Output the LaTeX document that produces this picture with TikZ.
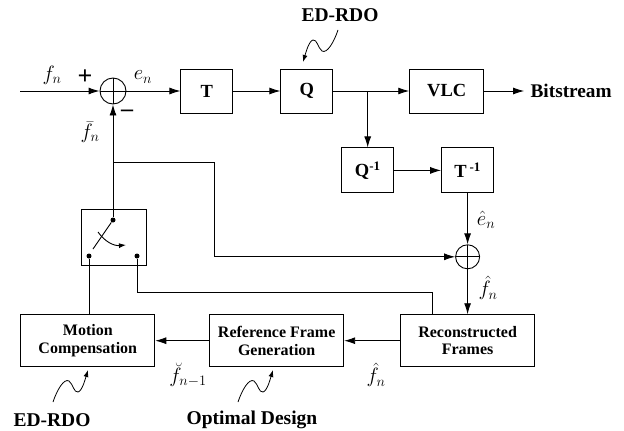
\documentclass[tikz,border=0pt]{standalone}
\usepackage{fontspec}
\setmainfont{Liberation Serif}
\usetikzlibrary{arrows.meta,positioning}

\begin{document}
\begin{tikzpicture}[
  x=1pt, y=1pt,
  line width=0.9pt,
  node distance=40pt and 40pt,
  box/.style={draw, minimum width=52pt, minimum height=44pt, align=center, font=\bfseries\fontsize{18.5}{20}\selectfont, inner sep=2pt},
  widebox/.style={box, minimum width=134pt, minimum height=52pt, font=\bfseries\fontsize{16}{17.5}\selectfont},
  swbox/.style={draw, minimum width=65pt, minimum height=56pt, inner sep=0pt},
  adder/.style={circle, draw, minimum size=26pt, inner sep=0pt,
    path picture={\draw (path picture bounding box.north) -- (path picture bounding box.south)
                        (path picture bounding box.west) -- (path picture bounding box.east);}},
  arr/.style={-{Latex[length=11pt,width=7pt]}},
  lab/.style={font=\fontsize{21}{23}\selectfont, inner sep=0pt},
  notetext/.style={font=\bfseries\fontsize{19.5}{21}\selectfont, inner sep=0pt},
  junc/.style={circle, fill, inner sep=0pt, minimum size=5pt},
  squig/.pic={\draw[-{Latex[length=7pt,width=5pt]}, line width=0.8pt]
    (0,0) .. controls (4,12) and (11,24) .. (16,21)
          .. controls (20,18) and (21,9) .. (25,10)
          .. controls (29,11) and (32,22) .. (35,32);}
]
  \useasboundingbox (0,0) rectangle (624,-431);

  % forward path
  \coordinate (in) at (20,-91);
  \node[adder] (sum1) at (113,-91) {};
  \node[box, right=54pt of sum1] (T) {T};
  \node[box, right=47pt of T] (Q) {Q};
  \node[box, right=76pt of Q, minimum width=74pt] (VLC) {VLC};
  \node[right=40pt of VLC, inner sep=6pt, font=\bfseries\fontsize{19.3}{21}\selectfont] (bits) {Bitstream};

  % reconstruction loop
  \node[box, below right=34pt and 8pt of Q, minimum height=45pt] (Qinv) {Q\textsuperscript{-1}};
  \node[box, right=47pt of Qinv, minimum height=45pt] (Tinv) {T\,\textsuperscript{-1}};
  \node[adder, below=51pt of Tinv, minimum size=24pt] (sum2) {};
  \node[widebox, below=45pt of sum2] (RF) {Reconstructed\\Frames};
  \node[widebox, left=56pt of RF] (RFG) {Reference Frame\\Generation};
  \node[widebox, left=54pt of RFG] (MC) {Motion\\Compensation};

  % switch
  \node[swbox] (sw) at (113.5,-237) {};
  \node[junc] (piv) at ([shift={(-0.5,17)}]sw.center) {};
  \node[junc] (dl) at ([shift={(-24.5,-19)}]sw.center) {};
  \node[junc] (dr) at ([shift={(23.5,-19)}]sw.center) {};
  \draw (piv) -- ([shift={(-20.5,-12)}]sw.center);
  \draw[-{Latex[length=7pt,width=5pt]}] ([shift={(-15.5,5)}]sw.center) to[bend right=30] ([shift={(12.5,-8)}]sw.center);

  % labels
  \node[lab] (fn) at (52,-75) {$f_n$};
  \node[notetext, font=\bfseries\fontsize{26}{28}\selectfont] (plus) at (85,-77) {+};
  \node[lab] (en) at (143,-77) {$e_n$};
  \node[notetext, font=\bfseries\fontsize{24}{26}\selectfont] (minus) at (127,-113) {--};
  \node[lab] (fbar) at (90,-132) {$\bar{f}_n$};
  \node[lab] (ehat) at (486,-220) {$\hat{e}_n$};
  \node[lab] (fhat) at (488,-288) {$\hat{f}_n$};
  \node[lab] (fhat2) at (376,-375) {$\hat{f}_n$};
  \node[lab] (fbreve) at (188,-375) {$\breve{f}_{n-1}$};
  \node[notetext] (edtop) at (340,-15) {ED-RDO};
  \node[notetext] (edbot) at (52,-420) {ED-RDO};
  \node[notetext] (opt) at (252,-420) {Optimal Design};

  % connectors
  \draw[arr] (in) -- (sum1);
  \draw[arr] (sum1) -- (T);
  \draw[arr] (T) -- (Q);
  \draw[arr] (Q) -- (VLC);
  \draw[arr] (VLC) -- (bits);
  \draw[arr] (Qinv.north |- Q.east) -- (Qinv);
  \draw[arr] (Qinv) -- (Tinv);
  \draw[arr] (Tinv) -- (sum2);
  \draw[arr] (sum2) -- (RF);
  \draw[arr] (RF) -- (RFG);
  \draw[arr] (RFG) -- (MC);
  \draw[arr] (piv) -- (sum1);
  \coordinate (tap) at (113,-162);
  \coordinate (kink) at (214,-162);
  \draw[arr] (tap) -- (kink) |- (sum2.west);
  \draw (dl) -- (dl |- MC.north);
  \draw (dr) |- ([shift={(32,22)}]RF.north west) -- ([xshift=32pt]RF.north west);

  % squiggles
  \pic[rotate=180] at (338,-30) {squig};
  \pic at (53,-402) {squig};
  \pic at (238,-402) {squig};
\end{tikzpicture}
\end{document}
